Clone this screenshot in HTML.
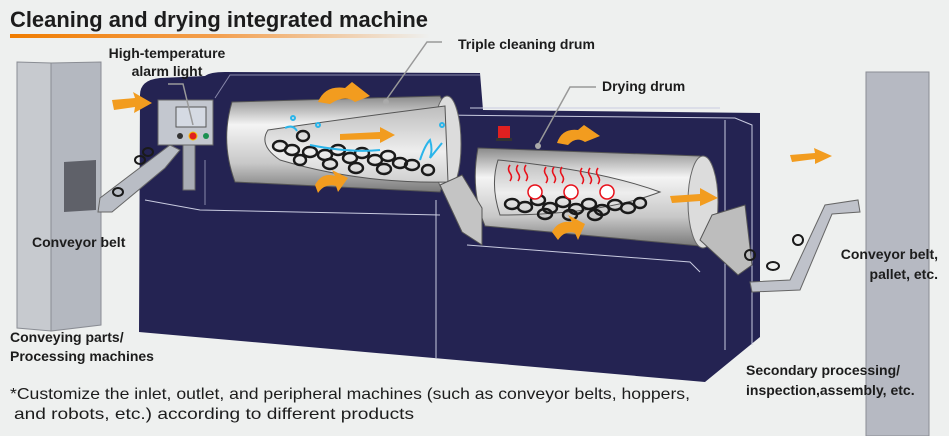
<!DOCTYPE html>
<html><head><meta charset="utf-8"><style>
html,body{margin:0;padding:0;background:#eef0ef;}
svg{display:block}
.b{font-family:"Liberation Sans",sans-serif;font-weight:bold;fill:#1c1c1c;font-size:14px}
</style></head><body>
<svg width="949" height="436" viewBox="0 0 949 436" xmlns="http://www.w3.org/2000/svg">
<defs>
<linearGradient id="og" x1="0" x2="1"><stop offset="0" stop-color="#f07c00"/><stop offset="0.5" stop-color="#f3a050"/><stop offset="1" stop-color="#eef0ef"/></linearGradient>
<linearGradient id="drum" x1="0" y1="0" x2="0" y2="1"><stop offset="0" stop-color="#8a8a8a"/><stop offset="0.3" stop-color="#f4f4f4"/><stop offset="0.7" stop-color="#c8c8c8"/><stop offset="1" stop-color="#7a7a7a"/></linearGradient>
<linearGradient id="inn" x1="0" y1="0" x2="0" y2="1"><stop offset="0" stop-color="#bdbdbd"/><stop offset="0.6" stop-color="#eeeeee"/><stop offset="1" stop-color="#cfcfcf"/></linearGradient>
</defs>
<rect width="949" height="436" fill="#eef0ef"/>
<text x="10" y="27" font-family="Liberation Sans,sans-serif" font-weight="bold" font-size="22" fill="#1c1c1c" textLength="418" lengthAdjust="spacingAndGlyphs">Cleaning and drying integrated machine</text>
<rect x="10" y="34" width="420" height="4" fill="url(#og)"/>

<!-- left cabinet -->
<polygon points="17,62 51,63 51,331 17,328" fill="#c7cacf" stroke="#8a8d94" stroke-width="1"/>
<polygon points="51,63 101,62 101,325 51,331" fill="#b4b8c0" stroke="#8a8d94" stroke-width="1"/>
<polygon points="64,162 96,160 96,210 64,212" fill="#5f6169"/>

<!-- right cabinet -->
<rect x="866" y="72" width="63" height="364" fill="#b6b9c2" stroke="#8a8d94" stroke-width="1"/>

<!-- machine body -->
<path d="M140,95 Q140,80 160,78 L205,76 Q210,72 225,72 L480,73 L483,110 L760,113 L760,337 L705,382 L139,332 Z" fill="#242352"/>
<path d="M436,200 L436,358" stroke="#c9cbe0" stroke-width="1" fill="none"/>
<path d="M145,200 L200,210 L440,215 M467,245 L690,262 L700,272 M440,115 L735,118 L752,125 L752,345 M470,108 L720,108 M725,120 L725,350" stroke="#c9cbe0" stroke-width="1" fill="none"/>
<path d="M215,98 L230,75 L480,75 M205,205 L205,160" stroke="#8888aa" stroke-width="1" fill="none"/>

<!-- cleaning drum -->
<path d="M232,102 L440,96 Q464,140 440,192 L235,182 Q220,142 232,102 Z" fill="url(#drum)" stroke="#555" stroke-width="1"/>
<ellipse cx="447" cy="144" rx="14" ry="48" fill="#dcdcdc" stroke="#666"/>
<path d="M268,130 Q350,118 445,106 L448,182 Q360,184 280,160 Q258,145 268,130 Z" fill="url(#inn)" stroke="#555"/>
<g fill="none" stroke="#1a1a1a" stroke-width="2.4">
<ellipse cx="280" cy="146" rx="7" ry="5"/><ellipse cx="292" cy="150" rx="7" ry="5"/><ellipse cx="303" cy="136" rx="6" ry="5"/><ellipse cx="310" cy="152" rx="7" ry="5"/><ellipse cx="325" cy="155" rx="7" ry="5"/><ellipse cx="338" cy="150" rx="7" ry="5"/><ellipse cx="350" cy="158" rx="7" ry="5"/><ellipse cx="362" cy="153" rx="7" ry="5"/><ellipse cx="375" cy="160" rx="7" ry="5"/><ellipse cx="388" cy="156" rx="7" ry="5"/><ellipse cx="400" cy="163" rx="7" ry="5"/><ellipse cx="412" cy="165" rx="7" ry="5"/><ellipse cx="330" cy="164" rx="7" ry="5"/><ellipse cx="356" cy="168" rx="7" ry="5"/><ellipse cx="384" cy="169" rx="7" ry="5"/><ellipse cx="300" cy="160" rx="6" ry="5"/><ellipse cx="428" cy="170" rx="6" ry="5"/>
</g>
<g fill="none" stroke="#2bb5ea" stroke-width="2"><path d="M285,128 q8,-4 12,3"/><path d="M420,160 q5,-15 10,-20 q3,10 0,18 q8,-10 12,-15"/><circle cx="293" cy="118" r="2"/><circle cx="318" cy="125" r="2"/><circle cx="442" cy="125" r="2"/><path d="M310,145 q40,8 70,5"/></g>
<polygon points="340,134 380,132 380,127 395,135 380,143 380,139 340,140" fill="#f29c1f"/>

<!-- drying drum -->
<path d="M478,148 L700,156 Q714,200 700,246 L485,226 Q470,190 478,148 Z" fill="url(#drum)" stroke="#555"/>
<ellipse cx="703" cy="202" rx="15" ry="46" fill="#dcdcdc" stroke="#666"/>
<path d="M498,160 Q600,170 660,192 Q600,215 500,215 Q490,185 498,160 Z" fill="url(#inn)" stroke="#555"/>
<rect x="498" y="126" width="12" height="12" fill="#e02020"/><rect x="496" y="138" width="16" height="3" fill="#333"/>
<g fill="none" stroke="#1a1a1a" stroke-width="2.4">
<ellipse cx="512" cy="204" rx="7" ry="5"/><ellipse cx="525" cy="207" rx="7" ry="5"/><ellipse cx="538" cy="200" rx="7" ry="5"/><ellipse cx="550" cy="208" rx="7" ry="5"/><ellipse cx="563" cy="202" rx="7" ry="5"/><ellipse cx="576" cy="209" rx="7" ry="5"/><ellipse cx="589" cy="204" rx="7" ry="5"/><ellipse cx="602" cy="210" rx="7" ry="5"/><ellipse cx="615" cy="205" rx="7" ry="5"/><ellipse cx="628" cy="208" rx="7" ry="5"/><ellipse cx="640" cy="203" rx="6" ry="5"/><ellipse cx="545" cy="214" rx="7" ry="5"/><ellipse cx="570" cy="215" rx="7" ry="5"/><ellipse cx="595" cy="215" rx="7" ry="5"/>
</g>
<g fill="none" stroke="#e8101a" stroke-width="1.6">
<path d="M510,165 q-3,4 0,8 q3,4 0,8"/><path d="M518,165 q-3,4 0,8 q3,4 0,8"/><path d="M526,165 q-3,4 0,8 q3,4 0,8"/>
<path d="M546,167 q-3,4 0,8 q3,4 0,8"/><path d="M554,167 q-3,4 0,8 q3,4 0,8"/><path d="M562,167 q-3,4 0,8 q3,4 0,8"/>
<path d="M582,168 q-3,4 0,8 q3,4 0,8"/><path d="M590,168 q-3,4 0,8 q3,4 0,8"/><path d="M598,168 q-3,4 0,8 q3,4 0,8"/>
</g>
<g fill="#fff" stroke="#e8101a" stroke-width="1.5"><circle cx="535" cy="192" r="7"/><circle cx="571" cy="192" r="7"/><circle cx="607" cy="192" r="7"/></g>

<!-- chutes -->
<polygon points="440,185 462,175 482,208 482,245 462,232" fill="#c4c4c4" stroke="#555"/>
<polygon points="712,215 745,205 752,265 738,275 700,240" fill="#bdbdbd" stroke="#555"/>

<!-- control box -->
<rect x="158" y="100" width="55" height="45" fill="#c3c7cf" stroke="#666"/>
<rect x="176" y="107" width="30" height="20" fill="#d5dae3" stroke="#555"/>
<circle cx="180" cy="136" r="3" fill="#333"/><circle cx="193" cy="136" r="4" fill="#e0201f" stroke="#f5c000"/><circle cx="206" cy="136" r="3" fill="#1a9050"/>
<rect x="183" y="145" width="12" height="45" fill="#a9adb5" stroke="#666"/>
<!-- left conveyor -->
<polygon points="100,198 170,145 180,150 165,168 112,212 98,212" fill="#b9bdc5" stroke="#666"/>
<g fill="none" stroke="#1a1a1a" stroke-width="2"><ellipse cx="140" cy="160" rx="5" ry="4"/><ellipse cx="148" cy="152" rx="5" ry="4"/><ellipse cx="118" cy="192" rx="5" ry="4"/></g>
<!-- right conveyor -->
<polygon points="750,282 790,280 825,205 858,200 860,212 832,214 800,290 752,292" fill="#bfc2ca" stroke="#666"/>
<g fill="none" stroke="#1a1a1a" stroke-width="2"><ellipse cx="773" cy="266" rx="6" ry="4"/><ellipse cx="798" cy="240" rx="5" ry="5"/><ellipse cx="750" cy="255" rx="5" ry="5"/></g>

<!-- orange arrows -->
<g fill="#f29c1f">
<polygon points="112,100 135,98 133,92 152,103 134,113 135,107 114,110"/>
<polygon points="790,155 815,153 814,148 832,156 815,164 815,159 792,162"/>
<polygon points="670,196 700,194 700,188 718,198 700,206 700,201 672,203"/>
<path d="M318,102 Q325,85 345,88 L352,82 L370,96 L355,102 Q345,94 330,104 Z"/>
<path d="M315,185 Q322,172 335,176 L332,170 L348,178 L338,192 L336,186 Q325,183 318,193 Z"/>
<path d="M557,143 Q562,128 578,130 L584,125 L600,136 L585,142 Q576,136 568,145 Z"/>
<path d="M552,232 Q558,220 572,222 L568,215 L585,224 L578,240 L575,233 Q565,230 558,240 Z"/>
</g>

<!-- leader lines -->
<g stroke="#999" stroke-width="1.5" fill="none"><path d="M168,84 L183,84 L193,125"/><path d="M442,42 L427,42 L386,100"/><path d="M596,87 L570,87 L538,145"/></g>
<circle cx="386" cy="102" r="3" fill="#aaa"/><circle cx="538" cy="146" r="3" fill="#aaa"/>

<!-- labels -->
<text class="b" x="458" y="49">Triple cleaning drum</text>
<text class="b" x="167" y="58" text-anchor="middle">High-temperature</text>
<text class="b" x="167" y="76" text-anchor="middle">alarm light</text>
<text class="b" x="602" y="91">Drying drum</text>
<text class="b" x="32" y="247">Conveyor belt</text>
<text class="b" x="10" y="342">Conveying parts/</text>
<text class="b" x="10" y="361">Processing machines</text>
<text class="b" x="938" y="259" text-anchor="end">Conveyor belt,</text>
<text class="b" x="938" y="279" text-anchor="end">pallet, etc.</text>
<text class="b" x="746" y="375">Secondary processing/</text>
<text class="b" x="746" y="395">inspection,assembly, etc.</text>
<text x="10" y="399" font-family="Liberation Sans,sans-serif" font-size="16" fill="#1c1c1c" textLength="680" lengthAdjust="spacingAndGlyphs">*Customize the inlet, outlet, and peripheral machines (such as conveyor belts, hoppers,</text>
<text x="14" y="419" font-family="Liberation Sans,sans-serif" font-size="16" fill="#1c1c1c" textLength="400" lengthAdjust="spacingAndGlyphs">and robots, etc.) according to different products</text>
</svg>
</body></html>
